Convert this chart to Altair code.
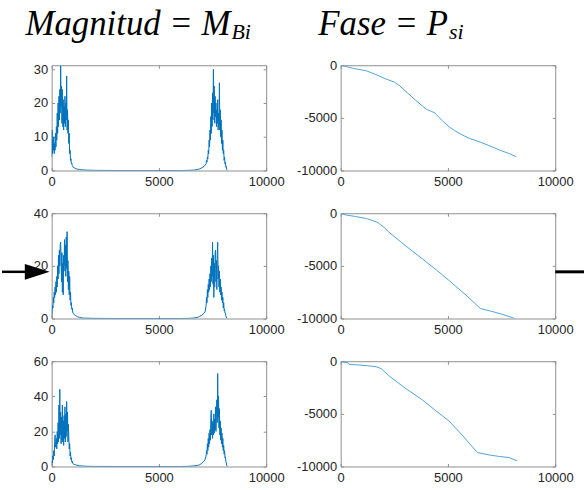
import altair as alt
import pandas as pd

# ---------------- data ----------------
FREQ_LEFT = list(range(0, 1001, 20))          # 51 samples
FREQ_MID = [1050, 1100, 1200, 1300, 1400, 1500, 1700, 2000, 3000, 4000,
            5000, 6000, 6400, 6600, 6800, 6900, 7000, 7100, 7150]
FREQ_RIGHT = list(range(7200, 8181, 20))      # 50 samples

mag1_left = [4, 12, 5, 9, 6, 10, 5, 8, 6, 11,
             7, 13, 9, 17, 11, 20, 13, 22, 15, 24,
             17, 31, 19, 25, 14, 24, 13, 21, 12, 19,
             14, 22, 13, 20, 15, 28, 12, 18, 11, 15,
             8, 11, 5, 6, 3, 3.5, 2, 2.2, 1.5, 1.2, 1.0]
mag1_mid = [0.8, 0.6, 0.4, 0.3, 0.2, 0.15, 0.1, 0.05, 0, 0,
            0, 0, 0.05, 0.1, 0.3, 0.5, 0.8, 1.2, 1.6]
mag1_right = [2, 3, 2.5, 4, 3.5, 6, 5, 9, 7, 12,
              9, 16, 11, 20, 13, 23, 15, 30, 17, 25,
              14, 22, 16, 20, 13, 18, 14, 21, 12, 17,
              13, 26, 12, 18, 10, 15, 8, 12, 6, 9,
              5, 6, 3, 4, 2, 2.5, 1, 1.2, 0.4, 0]

mag2_left = [0.5, 3, 5, 4, 8, 6, 10, 8, 12, 9,
             14, 10, 16, 12, 20, 15, 24, 17, 26, 20,
             28, 29, 22, 14, 25, 10, 21, 9, 24, 18,
             30, 20, 28, 16, 31, 19, 33, 14, 22, 11,
             18, 9, 16, 7, 10, 5, 6, 3.5, 4, 2.5, 2]
mag2_mid = [1.5, 1.2, 0.7, 0.4, 0.25, 0.15, 0.1, 0.05, 0, 0,
            0, 0, 0.05, 0.15, 0.4, 0.8, 1.2, 2, 2.5]
mag2_right = [5, 8, 6, 11, 8, 13, 10, 15, 11, 17,
              12, 20, 14, 23, 16, 29, 13, 24, 8, 21,
              12, 25, 26, 14, 22, 11, 24, 29, 15, 20,
              12, 18, 10, 15, 9, 12, 7, 10, 6, 8,
              4, 6, 3, 3.5, 2, 2, 1, 0.6, 0.2, 0]

mag3_left = [1, 3, 2, 6, 4, 9, 6, 14, 18, 11,
             12, 16, 10, 20, 13, 25, 14, 35, 16, 44,
             18, 31, 13, 28, 15, 35, 14, 26, 12, 29,
             16, 34, 14, 30, 17, 37, 20, 31, 14, 24,
             17, 10, 13, 6, 8, 4, 5, 2.5, 3, 1.8, 1.5]
mag3_mid = [1.2, 1.0, 0.7, 0.4, 0.3, 0.2, 0.1, 0.05, 0, 0,
            0, 0, 0.1, 0.3, 0.6, 1, 1.8, 3, 4]
mag3_right = [6, 9, 7, 13, 9, 16, 11, 19, 13, 21,
              15, 28, 32, 18, 26, 16, 25, 18, 30, 19,
              27, 21, 34, 20, 31, 38, 25, 53, 28, 40,
              22, 33, 18, 26, 15, 22, 13, 19, 11, 16,
              9, 12, 7, 9, 5, 5.5, 3, 2, 0.8, 0]

ph1_f = [0, 300, 600, 1000, 1200, 1600, 2100, 2500, 2750, 3100, 3500, 3800, 4000,
         4250, 4400, 4700, 5050, 5300, 5700, 6000, 6500, 6900, 7400, 7800, 8150, 8190]
ph1_v = [0, -150, -300, -450, -530, -850, -1300, -1600, -1950, -2600, -3340, -3850, -4200,
         -4400, -4550, -5200, -5840, -6200, -6650, -6950, -7300, -7620, -8050, -8350, -8660, -8700]

ph2_f = [0, 200, 700, 1200, 1700, 2000, 2250, 3000, 3800, 4500, 5040, 5800, 6510, 7000, 7520, 8110]
ph2_v = [0, -150, -315, -500, -850, -1300, -1800, -3050, -4320, -5450, -6370, -7700, -9050,
         -9300, -9590, -10000]

ph3_f = [0, 150, 340, 420, 800, 1200, 1650, 1890, 2270, 3000, 3820, 4400, 5050, 5700,
         6370, 6910, 7400, 7840, 8220]
ph3_v = [0, -100, -160, -300, -350, -420, -520, -700, -1420, -2550, -3690, -4650, -5680,
         -7100, -8680, -8900, -9050, -9150, -9460]

X_TICKS = [0, 5000, 10000]
MAG_TICKS = [[0, 10, 20, 30], [0, 20, 40], [0, 20, 40, 60]]
MAG_DOMAINS = [[0, 31.2], [0, 40], [0, 60]]
PH_TICKS = [-10000, -5000, 0]
PH_DOMAIN = [-10000, 0]

# ---------------- style ----------------
W, H = 216, 106
BLUE = "#0072BD"
PHASE_BLUE = "#4fa3dc"
AX = "#262626"
BOX = "#8f8f8f"
LABEL_FONT = "Liberation Sans"
TITLE_FONT = "Liberation Serif"


def mag_df(left, mid, right):
    return pd.DataFrame({"f": FREQ_LEFT + FREQ_MID + FREQ_RIGHT, "v": left + mid + right})


def panel(df, ydom, yticks, color, sw, extras=()):
    xs = alt.Scale(domain=[0, 10000], nice=False, zero=False)
    ys = alt.Scale(domain=ydom, nice=False, zero=False)
    common = dict(domain=False, grid=False, title=None)
    lab = dict(labelFont=LABEL_FONT, labelFontSize=13, labelColor=AX,
               labelFlush=False, labelOverlap=False, labelExpr="'' + datum.value")
    base = alt.Chart(df)
    main = base.mark_line(color=color, strokeWidth=sw, clip=True).encode(
        x=alt.X("f:Q", scale=xs, axis=alt.Axis(orient="bottom", values=X_TICKS, ticks=False,
                                                labelPadding=5, **lab, **common)),
        y=alt.Y("v:Q", scale=ys, axis=alt.Axis(orient="left", values=yticks, ticks=False,
                                                labelPadding=4, **lab, **common)),
    )
    tk = dict(labels=False, ticks=True, tickSize=3, tickColor=BOX, tickWidth=1, **common)
    t1 = base.mark_line(opacity=0).encode(
        x=alt.X("f:Q", scale=xs, axis=alt.Axis(orient="top", offset=-H, values=X_TICKS, **tk)),
        y=alt.Y("v:Q", scale=ys, axis=alt.Axis(orient="right", offset=-W, values=yticks, **tk)),
    )
    t2 = base.mark_line(opacity=0).encode(
        x=alt.X("f:Q", scale=xs, axis=alt.Axis(orient="bottom", offset=-H, values=X_TICKS, **tk)),
        y=alt.Y("v:Q", scale=ys, axis=alt.Axis(orient="left", offset=-W, values=yticks, **tk)),
    )
    return (alt.layer(main, t1, t2, *extras)
            .resolve_axis(x="independent", y="independent")
            .properties(width=W, height=H))


def title_layers(main_text, sub_text, xpos):
    one = pd.DataFrame({"t": [main_text], "s": [sub_text]})
    t_main = alt.Chart(one).mark_text(font=TITLE_FONT, fontStyle="italic", fontSize=35,
                                      align="right", baseline="alphabetic", color="black").encode(
        text="t:N", x=alt.value(xpos), y=alt.value(-30))
    t_sub = alt.Chart(one).mark_text(font=TITLE_FONT, fontStyle="italic", fontSize=22,
                                     align="left", baseline="alphabetic", color="black").encode(
        text="s:N", x=alt.value(xpos + 1), y=alt.value(-26))
    return [t_main, t_sub]


one_row = pd.DataFrame({"k": [1]})
left_arrow_line = alt.Chart(one_row).mark_rule(color="black", strokeWidth=2.5).encode(
    x=alt.value(-50), x2=alt.value(-22), y=alt.value(59))
left_arrow_head = alt.Chart(one_row).mark_point(
    shape="M-1,-0.64L1,0L-1,0.64Z", filled=True, size=625, color="black", opacity=1).encode(
    x=alt.value(-14.5), y=alt.value(59))
right_line = alt.Chart(one_row).mark_rule(color="black", strokeWidth=3).encode(
    x=alt.value(W), x2=alt.value(W + 29), y=alt.value(59))

p1 = panel(mag_df(mag1_left, mag1_mid, mag1_right), MAG_DOMAINS[0], MAG_TICKS[0], BLUE, 1.0,
           title_layers("Magnitud = M", "Bi", 180))
p2 = panel(pd.DataFrame({"f": ph1_f, "v": ph1_v}), PH_DOMAIN, PH_TICKS, PHASE_BLUE, 1.0,
           title_layers("Fase = P", "si", 108))
p3 = panel(mag_df(mag2_left, mag2_mid, mag2_right), MAG_DOMAINS[1], MAG_TICKS[1], BLUE, 1.0,
           [left_arrow_line, left_arrow_head])
p4 = panel(pd.DataFrame({"f": ph2_f, "v": ph2_v}), PH_DOMAIN, PH_TICKS, PHASE_BLUE, 1.0,
           [right_line])
p5 = panel(mag_df(mag3_left, mag3_mid, mag3_right), MAG_DOMAINS[2], MAG_TICKS[2], BLUE, 1.0)
p6 = panel(pd.DataFrame({"f": ph3_f, "v": ph3_v}), PH_DOMAIN, PH_TICKS, PHASE_BLUE, 1.0)

chart = (alt.concat(p1, p2, p3, p4, p5, p6, columns=2,
                    spacing={"row": 43, "column": 75}, bounds="flush")
         .properties(padding={"left": 0, "top": 5, "right": 0, "bottom": 5}, background="white")
         .configure_view(stroke=BOX, strokeWidth=1))

chart.save("out.html", embed_options={"renderer": "svg", "actions": False})
